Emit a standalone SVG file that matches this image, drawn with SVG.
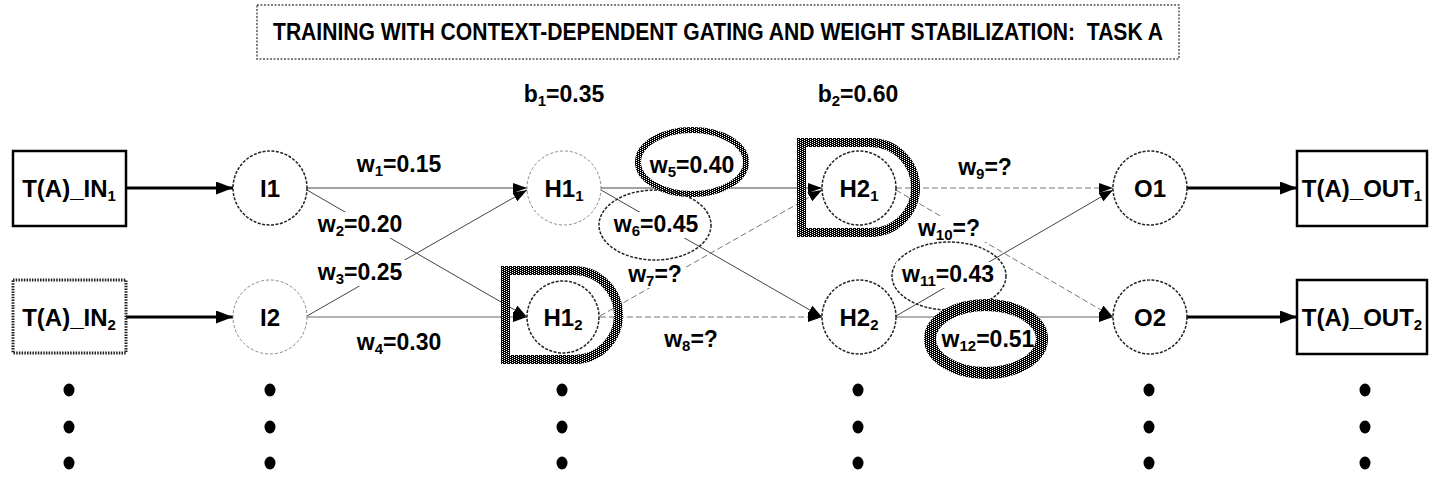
<svg xmlns="http://www.w3.org/2000/svg" width="1437" height="482" viewBox="0 0 1437 482">
<style>
text{font-family:"Liberation Sans",Arial,sans-serif;font-weight:bold;fill:#000}
.t{font-size:24px;text-anchor:middle}
.tt{font-size:24px;text-anchor:middle}
.lb{font-size:23px;text-anchor:middle}
.sub{font-size:15px}
.cd{fill:#fff;stroke:#222;stroke-width:1.5;stroke-dasharray:3 1.5}
.cl{fill:#fff;stroke:#888;stroke-width:1;stroke-dasharray:3 2}
.box{fill:#fff;stroke:#000;stroke-width:2.5}
.boxd{fill:#fff;stroke:#222;stroke-width:3;stroke-dasharray:1.5 1.2}
.thick{stroke:#000;stroke-width:3;fill:none}
.ln{stroke:#444;stroke-width:1;fill:none}
.lg{stroke:#999;stroke-width:1.5;fill:none}
.ld{stroke:#777;stroke-width:1;fill:none;stroke-dasharray:6 3}
.gate{fill:none;stroke:url(#chk);stroke-width:9}
.eld{fill:none;stroke:#222;stroke-width:1.5;stroke-dasharray:3 1.5}
.dot{fill:#000}
.bg{fill:#fff}
</style>
<defs>
<pattern id="chk" width="4" height="2" patternUnits="userSpaceOnUse"><rect width="4" height="2" fill="#000"/><rect x="0" y="0" width="1" height="1" fill="#fff"/><rect x="2" y="1" width="1" height="1" fill="#fff"/></pattern>
<marker id="ah" markerWidth="14" markerHeight="10" refX="14" refY="5" orient="auto" markerUnits="userSpaceOnUse"><path d="M0,0 L14,5 L0,10 Z" fill="#000"/></marker>
<marker id="ahb" markerWidth="17" markerHeight="13" refX="17" refY="6.5" orient="auto" markerUnits="userSpaceOnUse"><path d="M0,0 L17,6.5 L0,13 Z" fill="#000"/></marker>
</defs>
<rect width="1437" height="482" fill="#fff"/>

<g id="title">
<rect x="257" y="5" width="922" height="54" fill="#fff" stroke="#555" stroke-width="1.5" stroke-dasharray="2 1.5"/>
<text x="718" y="40" class="tt" textLength="890" lengthAdjust="spacingAndGlyphs" xml:space="preserve">TRAINING WITH CONTEXT-DEPENDENT GATING AND WEIGHT STABILIZATION:  TASK A</text>
</g>

<g id="bias">
<text x="564" y="102" class="lb">b<tspan class="sub" dy="4">1</tspan><tspan dy="-4">=0.35</tspan></text>
<text x="858" y="102" class="lb">b<tspan class="sub" dy="4">2</tspan><tspan dy="-4">=0.60</tspan></text>
</g>

<g id="connectors">
<line x1="126" y1="188" x2="233" y2="188" class="thick" marker-end="url(#ahb)"/>
<line x1="126" y1="317" x2="233" y2="317" class="thick" marker-end="url(#ahb)"/>
<line x1="1187" y1="188" x2="1297" y2="188" class="thick" marker-end="url(#ahb)"/>
<line x1="1187" y1="317" x2="1297" y2="317" class="thick" marker-end="url(#ahb)"/>
<line x1="307" y1="188" x2="527" y2="188" class="ln" marker-end="url(#ah)"/>
<line x1="307" y1="190" x2="527" y2="317" class="ln" marker-end="url(#ah)"/>
<line x1="307" y1="316" x2="527" y2="190" class="ln" marker-end="url(#ah)"/>
<line x1="307" y1="317" x2="527" y2="317" class="lg" marker-end="url(#ah)"/>
<line x1="601" y1="188" x2="822" y2="188" class="ln" marker-end="url(#ah)"/>
<line x1="601" y1="190" x2="822" y2="317" class="ln" marker-end="url(#ah)"/>
<line x1="600" y1="316" x2="822" y2="190" class="ld" marker-end="url(#ah)"/>
<line x1="600" y1="317" x2="822" y2="317" class="ld" marker-end="url(#ah)"/>
<line x1="896" y1="188" x2="1113" y2="188" class="ld" marker-end="url(#ah)"/>
<line x1="896" y1="190" x2="1113" y2="317" class="ld" marker-end="url(#ah)"/>
<line x1="896" y1="316" x2="1113" y2="190" class="ln" marker-end="url(#ah)"/>
<line x1="896" y1="317" x2="1113" y2="317" class="lg" marker-end="url(#ah)"/>
</g>

<g id="gates">
<path d="M505.5,270.5 H574 A44.5,44.5 0 0 1 574,359.5 H505.5 Z" class="gate"/>
<path d="M801.5,142.5 H870.5 A45,45 0 0 1 870.5,232.5 H801.5 Z" class="gate"/>
</g>

<g id="in1"><rect x="13" y="151" width="113" height="75" class="box"/><text x="69" y="197" class="t">T(A)_IN<tspan class="sub" dy="4">1</tspan></text></g>
<g id="in2"><rect x="13" y="280" width="113" height="73" class="boxd"/><text x="69" y="326" class="t">T(A)_IN<tspan class="sub" dy="4">2</tspan></text></g>
<g id="i1"><circle cx="270" cy="188" r="37" class="cd"/><text x="270" y="197" class="t">I1</text></g>
<g id="i2"><circle cx="270" cy="317" r="37" class="cl"/><text x="270" y="326" class="t">I2</text></g>
<g id="h11"><circle cx="564" cy="188" r="37" class="cl"/><text x="564" y="197" class="t">H1<tspan class="sub" dy="4">1</tspan></text></g>
<g id="h12"><circle cx="563" cy="317" r="36" class="cd"/><text x="563" y="326" class="t">H1<tspan class="sub" dy="4">2</tspan></text></g>
<g id="h21"><circle cx="859" cy="188" r="37" class="cd"/><text x="859" y="197" class="t">H2<tspan class="sub" dy="4">1</tspan></text></g>
<g id="h22"><circle cx="859" cy="317" r="37" class="cd"/><text x="859" y="326" class="t">H2<tspan class="sub" dy="4">2</tspan></text></g>
<g id="o1"><circle cx="1150" cy="188" r="37" class="cd"/><text x="1150" y="197" class="t">O1</text></g>
<g id="o2"><circle cx="1150" cy="317" r="37" class="cd"/><text x="1150" y="326" class="t">O2</text></g>
<g id="out1"><rect x="1297" y="151" width="130" height="75" class="box"/><text x="1362" y="197" class="t">T(A)_OUT<tspan class="sub" dy="4">1</tspan></text></g>
<g id="out2"><rect x="1297" y="280" width="130" height="74" class="box"/><text x="1362" y="326" class="t">T(A)_OUT<tspan class="sub" dy="4">2</tspan></text></g>

<g id="weights">
<text x="399" y="172" class="lb">w<tspan class="sub" dy="4">1</tspan><tspan dy="-4">=0.15</tspan></text>
<rect x="313" y="212" width="96" height="26" class="bg"/>
<text x="360" y="232" class="lb">w<tspan class="sub" dy="4">2</tspan><tspan dy="-4">=0.20</tspan></text>
<rect x="313" y="260" width="96" height="26" class="bg"/>
<text x="360" y="280" class="lb">w<tspan class="sub" dy="4">3</tspan><tspan dy="-4">=0.25</tspan></text>
<text x="399" y="350" class="lb">w<tspan class="sub" dy="4">4</tspan><tspan dy="-4">=0.30</tspan></text>
<ellipse cx="692" cy="162" rx="54" ry="32" fill="#fff" stroke="url(#chk)" stroke-width="6"/>
<text x="692" y="173" class="lb">w<tspan class="sub" dy="4">5</tspan><tspan dy="-4">=0.40</tspan></text>
<ellipse cx="655" cy="225" rx="56" ry="35" class="eld"/>
<rect x="609" y="212" width="94" height="26" class="bg"/>
<text x="656" y="232" class="lb">w<tspan class="sub" dy="4">6</tspan><tspan dy="-4">=0.45</tspan></text>
<rect x="625" y="262" width="60" height="26" class="bg"/>
<text x="655" y="282" class="lb">w<tspan class="sub" dy="4">7</tspan><tspan dy="-4">=?</tspan></text>
<text x="691" y="347" class="lb">w<tspan class="sub" dy="4">8</tspan><tspan dy="-4">=?</tspan></text>
<text x="985" y="175" class="lb">w<tspan class="sub" dy="4">9</tspan><tspan dy="-4">=?</tspan></text>
<rect x="913" y="216" width="72" height="26" class="bg"/>
<text x="949" y="236" class="lb">w<tspan class="sub" dy="4">10</tspan><tspan dy="-4">=?</tspan></text>
<ellipse cx="949" cy="276" rx="57" ry="34" class="eld"/>
<rect x="896" y="262" width="104" height="26" class="bg"/>
<text x="948" y="282" class="lb">w<tspan class="sub" dy="4">11</tspan><tspan dy="-4">=0.43</tspan></text>
<ellipse cx="986" cy="339" rx="56" ry="34" fill="#fff" stroke="url(#chk)" stroke-width="12"/>
<text x="988" y="347" class="lb">w<tspan class="sub" dy="4">12</tspan><tspan dy="-4">=0.51</tspan></text>
</g>

<g id="ellipsis">
<ellipse cx="69" cy="390" rx="5.5" ry="6.5" class="dot"/><ellipse cx="69" cy="427" rx="5.5" ry="6.5" class="dot"/><ellipse cx="69" cy="463" rx="5.5" ry="6.5" class="dot"/>
<ellipse cx="270" cy="390" rx="5.5" ry="6.5" class="dot"/><ellipse cx="270" cy="427" rx="5.5" ry="6.5" class="dot"/><ellipse cx="270" cy="463" rx="5.5" ry="6.5" class="dot"/>
<ellipse cx="562" cy="390" rx="5.5" ry="6.5" class="dot"/><ellipse cx="562" cy="427" rx="5.5" ry="6.5" class="dot"/><ellipse cx="562" cy="463" rx="5.5" ry="6.5" class="dot"/>
<ellipse cx="858" cy="390" rx="5.5" ry="6.5" class="dot"/><ellipse cx="858" cy="427" rx="5.5" ry="6.5" class="dot"/><ellipse cx="858" cy="463" rx="5.5" ry="6.5" class="dot"/>
<ellipse cx="1149" cy="390" rx="5.5" ry="6.5" class="dot"/><ellipse cx="1149" cy="427" rx="5.5" ry="6.5" class="dot"/><ellipse cx="1149" cy="463" rx="5.5" ry="6.5" class="dot"/>
<ellipse cx="1365" cy="390" rx="5.5" ry="6.5" class="dot"/><ellipse cx="1365" cy="427" rx="5.5" ry="6.5" class="dot"/><ellipse cx="1365" cy="463" rx="5.5" ry="6.5" class="dot"/>
</g>
</svg>
